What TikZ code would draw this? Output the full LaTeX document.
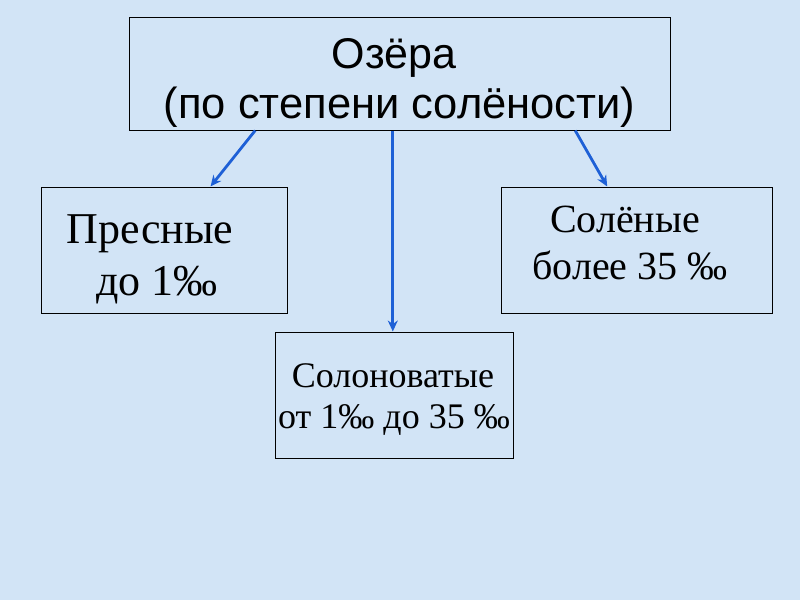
\documentclass[tikz,border=0pt]{standalone}
\usepackage{fontspec}
\setmainfont{Liberation Serif}
\newfontfamily\arialf{Liberation Sans}
\usetikzlibrary{arrows.meta,calc}
\definecolor{bgblue}{RGB}{210,228,246}
\definecolor{arrblue}{RGB}{30,96,214}
\tikzset{
  boxnode/.style={draw=black, line width=1pt, rectangle, inner sep=0pt},
  txtnode/.style={anchor=base, inner sep=0pt, text=black},
  conn/.style={draw=arrblue, line width=2.8pt, -{Stealth[length=11pt,width=10pt]}}
}
\begin{document}
\begin{tikzpicture}[x=1pt,y=-1pt]
\fill[bgblue] (0,0) rectangle (800,600);
\useasboundingbox (0,0) rectangle (800,600);
% boxes
\node[boxnode, minimum width=541pt, minimum height=113pt] (top) at (399.5,73.5) {};
\node[boxnode, minimum width=246pt, minimum height=126pt] (fresh) at (164,250) {};
\node[boxnode, minimum width=271pt, minimum height=126pt] (salt) at (636.5,250) {};
\node[boxnode, minimum width=238pt, minimum height=126pt] (brack) at (394,395) {};
% texts
\node[txtnode, font=\arialf\fontsize{43}{48}\selectfont] (t1) at (394,68) {Озёра};
\node[txtnode, font=\arialf\fontsize{43.5}{48}\selectfont] (t2) at (399.5,118) {(по степени солёности)};
\node[txtnode, font=\fontsize{44}{50}\selectfont] (f1) at (150,243) {Пресные};
\node[txtnode, font=\fontsize{44}{50}\selectfont] (f2) at (157,295) {до 1‰};
\node[txtnode, font=\fontsize{40}{46}\selectfont] (s1) at (625,232) {Солёные};
\node[txtnode, font=\fontsize{40}{46}\selectfont] (s2) at (630,279) {более 35 ‰};
\node[txtnode, font=\fontsize{36}{42}\selectfont] (b1) at (393,387) {Солоноватые};
\node[txtnode, font=\fontsize{36}{42}\selectfont] (b2) at (394,428) {от 1‰ до 35 ‰};
% connector end points on box borders
\path (top.south west) ++(126.7,0) coordinate (a1s);
\path (fresh.north west) ++(170,0) coordinate (a1e);
\path (top.south west) ++(264.3,0) coordinate (a2s);
\path (brack.north west) ++(118.3,0) coordinate (a2e);
\path (top.south west) ++(446.7,0) coordinate (a3s);
\path (salt.north west) ++(106.7,0) coordinate (a3e);
\draw[conn] (a1s) -- (a1e);
\draw[conn] (a2s) -- (a2e);
\draw[conn] (a3s) -- (a3e);
\end{tikzpicture}
\end{document}
